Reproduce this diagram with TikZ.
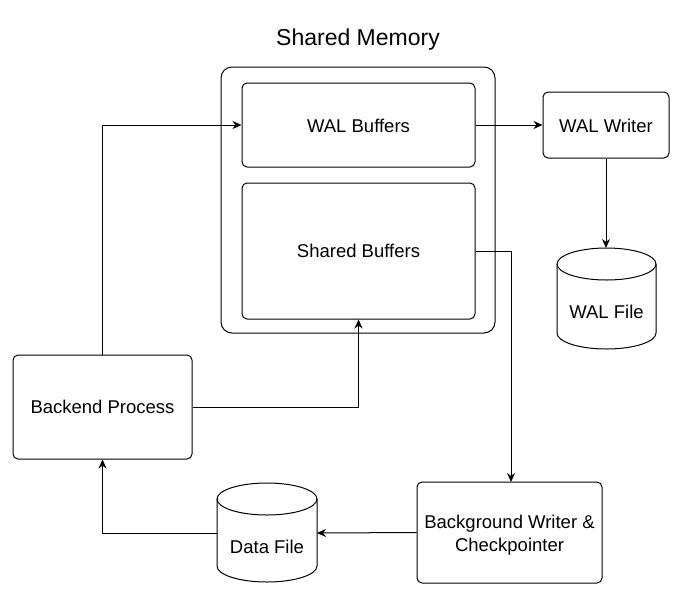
\documentclass[tikz,border=0pt]{standalone}
\usepackage{fontspec}
\setmainfont{Liberation Sans}
\usetikzlibrary{arrows.meta}
\begin{document}
\begin{tikzpicture}[x=1pt,y=-1pt,
  box/.style={draw, line width=1pt, rounded corners=5pt, inner sep=0pt},
  lbl/.style={font=\fontsize{18.5}{23}\selectfont, align=center},
  conn/.style={draw, line width=1pt, -{Stealth[length=9pt,width=8pt]}},
  cyl/.style={draw, line width=1pt}]
\useasboundingbox (0,0) rectangle (687,595);
% Shared memory container
\draw[line width=1pt, rounded corners=11pt] (221,67) rectangle (495,333);
\node[font=\fontsize{23}{28}\selectfont] (title) at (358,39.5) {Shared Memory};
% boxes
\node[box, minimum width=233pt, minimum height=84pt] (walbuf) at (358.5,125) {};
\node[lbl] at (358.5,126) {WAL Buffers};
\node[box, minimum width=233pt, minimum height=136pt] (shbuf) at (358.5,251) {};
\node[lbl] at (358.5,251) {Shared Buffers};
\node[box, minimum width=126pt, minimum height=66pt] (walw) at (606,125) {};
\node[lbl] at (606,126) {WAL Writer};
\node[box, minimum width=179pt, minimum height=104pt] (backend) at (102.5,407) {};
\node[lbl] at (102.5,407) {Backend Process};
\node[box, minimum width=185pt, minimum height=101pt] (bgw) at (509.5,532.5) {};
\node[lbl] at (509.5,535) {Background Writer \&\\Checkpointer};
\coordinate (bgwtop) at (511,482);
% WAL File cylinder
\coordinate (walf) at (606,248);
\draw[cyl, fill=white] (557,264) -- (557,333) arc[start angle=180,end angle=360,x radius=49.5pt,y radius=16pt] -- (656,264) arc[start angle=0,end angle=180,x radius=49.5pt,y radius=16pt] -- cycle;
\draw[cyl] (557,264) arc[start angle=180,end angle=360,x radius=49.5pt,y radius=16pt];
\node[lbl] (walflbl) at (606.5,312) {WAL File};
% Data File cylinder
\coordinate (datafL) at (217,533);
\coordinate (datafR) at (317,533);
\draw[cyl, fill=white] (217,499) -- (217,566) arc[start angle=180,end angle=360,x radius=50pt,y radius=16pt] -- (317,499) arc[start angle=0,end angle=180,x radius=50pt,y radius=16pt] -- cycle;
\draw[cyl] (217,499) arc[start angle=180,end angle=360,x radius=50pt,y radius=16pt];
\node[lbl] (dataflbl) at (267,547) {Data File};
% connectors
\draw[conn] (backend.north) |- (walbuf.west);
\draw[conn] (backend.east) -| (shbuf.south);
\draw[conn] (walbuf.east) -- (walw.west);
\draw[conn] (walw.south) -- (walf);
\draw[conn] (shbuf.east) -| (bgwtop);
\draw[conn] (bgw.west) -- (datafR);
\draw[conn] (datafL) -| (backend.south);
\end{tikzpicture}
\end{document}
